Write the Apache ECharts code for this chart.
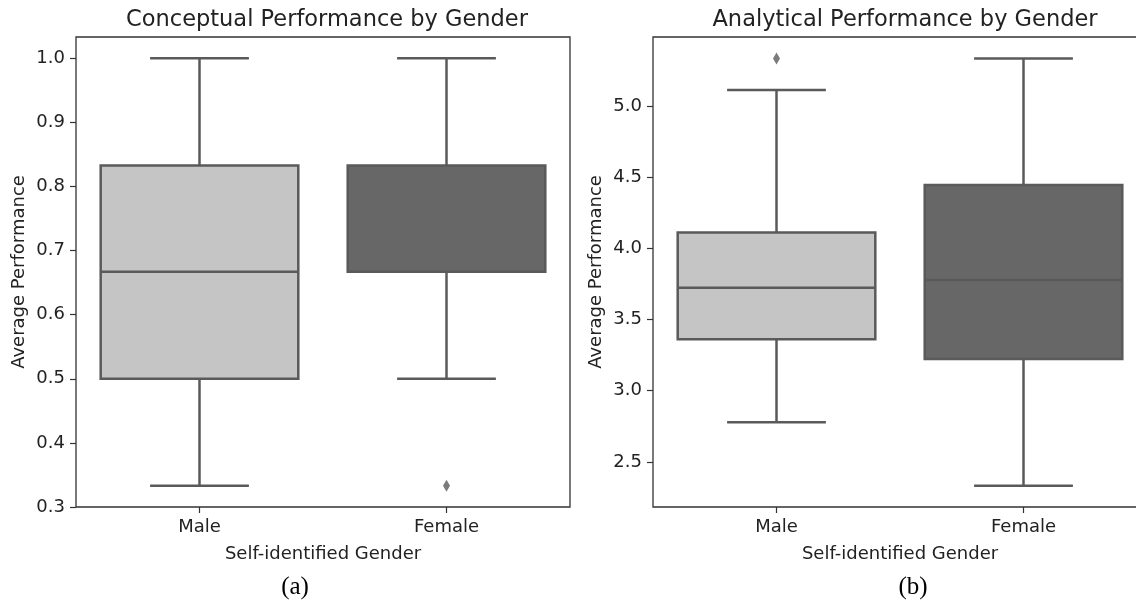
<!DOCTYPE html>
<html lang="en">
<head>
<meta charset="UTF-8">
<title>Performance by Gender</title>
<script src="https://cdn.jsdelivr.net/npm/echarts@6/dist/echarts.min.js"></script>
<style>
  html,body{margin:0;background:#fff;}
  #chart{width:1136px;height:604px;}
</style>
</head>
<body>
<div id="chart"></div>
<script>
const genders = ['Male', 'Female'];

// (a) conceptual: whisker low, Q1, median, Q3, whisker high
const conceptLow  = [0.333, 0.5];
const conceptQ1   = [0.5, 0.667];
const conceptMed  = [0.667, 0.667];
const conceptQ3   = [0.833, 0.833];
const conceptHigh = [1.0, 1.0];
const conceptOutliers = [[1, 0.333]];
const conceptTicks = [0.3, 0.4, 0.5, 0.6, 0.7, 0.8, 0.9, 1.0];

// (b) analytical
const analyticLow  = [2.778, 2.333];
const analyticQ1   = [3.361, 3.222];
const analyticMed  = [3.722, 3.778];
const analyticQ3   = [4.111, 4.444];
const analyticHigh = [5.111, 5.333];
const analyticOutliers = [[0, 5.333]];
const analyticTicks = [2.5, 3.0, 3.5, 4.0, 4.5, 5.0];

const FONT = '"DejaVu Sans", Arial';
const TXT = '#222';
const SPINE = '#333';
const EDGE = '#5a5a5a';
const fills = ['#c5c5c5', '#676767'];

function boxRows(lo, q1, md, q3, hi) {
  return genders.map((g, i) => [i, lo[i], q1[i], md[i], q3[i], hi[i]]);
}

function renderBox(params, api) {
  const i = api.value(0);
  const band = api.size([1, 0])[0];
  const half = band * 0.4, cap = band * 0.2;
  const cx = api.coord([i, api.value(1)])[0];
  const yLow = api.coord([i, api.value(1)])[1];
  const yQ1 = api.coord([i, api.value(2)])[1];
  const yMed = api.coord([i, api.value(3)])[1];
  const yQ3 = api.coord([i, api.value(4)])[1];
  const yHigh = api.coord([i, api.value(5)])[1];
  const ls = {stroke: EDGE, lineWidth: 2.5};
  return {
    type: 'group',
    children: [
      {type: 'line', shape: {x1: cx, y1: yQ3, x2: cx, y2: yHigh}, style: ls},
      {type: 'line', shape: {x1: cx, y1: yQ1, x2: cx, y2: yLow}, style: ls},
      {type: 'line', shape: {x1: cx - cap, y1: yHigh, x2: cx + cap, y2: yHigh}, style: ls},
      {type: 'line', shape: {x1: cx - cap, y1: yLow, x2: cx + cap, y2: yLow}, style: ls},
      {type: 'rect', shape: {x: cx - half, y: yQ3, width: half * 2, height: yQ1 - yQ3},
        style: {fill: fills[i], stroke: EDGE, lineWidth: 2.5}},
      {type: 'line', shape: {x1: cx - half, y1: yMed, x2: cx + half, y2: yMed}, style: ls}
    ]
  };
}

function xAxisFor(idx) {
  return {
    type: 'category', gridIndex: idx, data: genders,
    axisLine: {show: false},
    axisTick: {show: true, alignWithLabel: true, length: 6, lineStyle: {color: SPINE, width: 1.2}},
    axisLabel: {fontSize: 18, color: TXT, fontFamily: FONT, margin: 11},
    name: 'Self-identified Gender', nameLocation: 'middle', nameGap: 38,
    nameTextStyle: {fontSize: 18, color: TXT, fontFamily: FONT}
  };
}

function yAxisFor(idx, min, max, ticks) {
  return {
    type: 'value', gridIndex: idx, min, max,
    splitLine: {show: false},
    axisLine: {show: false},
    axisTick: {show: true, length: 6, customValues: ticks, lineStyle: {color: SPINE, width: 1.2}},
    axisLabel: {fontSize: 18, color: TXT, fontFamily: FONT, margin: 11,
      customValues: ticks, formatter: v => v.toFixed(1)},
    name: 'Average Performance', nameLocation: 'middle', nameGap: 48,
    nameTextStyle: {fontSize: 18, color: TXT, fontFamily: FONT}
  };
}

// the right panel runs past the canvas edge in the reference, so no clamping
const gridBase = {show: true, top: 37, height: 470, width: 494, borderColor: SPINE, borderWidth: 1.3,
  outerBoundsMode: 'none', containLabel: false};
const titleStyle = {fontSize: 22.5, fontWeight: 'normal', color: TXT, fontFamily: FONT};
const capStyle = {fontSize: 25, fontWeight: 'normal', color: '#000', fontFamily: '"Liberation Serif", serif'};

const chart = echarts.init(document.getElementById('chart'));
chart.setOption({
  animation: false,
  title: [
    {text: 'Conceptual Performance by Gender', left: 322, top: 4, textAlign: 'center', textStyle: titleStyle},
    {text: 'Analytical Performance by Gender', left: 900, top: 4, textAlign: 'center', textStyle: titleStyle},
    {text: '(a)', left: 290, top: 570, textAlign: 'center', textStyle: capStyle},
    {text: '(b)', left: 908, top: 570, textAlign: 'center', textStyle: capStyle}
  ],
  grid: [
    Object.assign({left: 76}, gridBase),
    Object.assign({left: 653}, gridBase)
  ],
  xAxis: [xAxisFor(0), xAxisFor(1)],
  yAxis: [
    yAxisFor(0, 0.3, 1.03333, conceptTicks),
    yAxisFor(1, 2.18333, 5.48333, analyticTicks)
  ],
  series: [
    {type: 'custom', xAxisIndex: 0, yAxisIndex: 0, renderItem: renderBox,
      data: boxRows(conceptLow, conceptQ1, conceptMed, conceptQ3, conceptHigh)},
    {type: 'scatter', xAxisIndex: 0, yAxisIndex: 0, data: conceptOutliers,
      symbol: 'diamond', symbolSize: [7, 12], itemStyle: {color: EDGE}},
    {type: 'custom', xAxisIndex: 1, yAxisIndex: 1, renderItem: renderBox,
      data: boxRows(analyticLow, analyticQ1, analyticMed, analyticQ3, analyticHigh)},
    {type: 'scatter', xAxisIndex: 1, yAxisIndex: 1, data: analyticOutliers,
      symbol: 'diamond', symbolSize: [7, 12], itemStyle: {color: EDGE}}
  ]
});
</script>
</body>
</html>
